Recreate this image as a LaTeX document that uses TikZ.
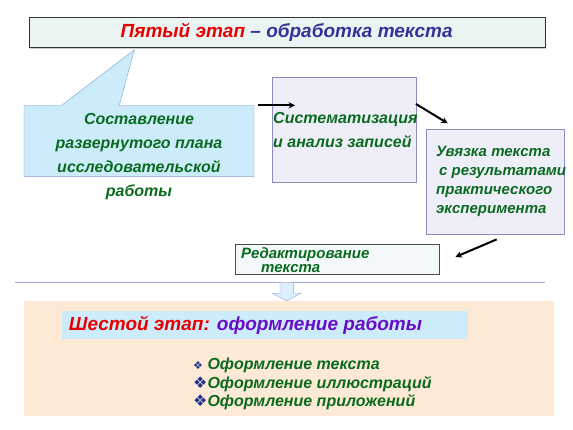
\documentclass[tikz,border=0pt]{standalone}
\usepackage{fontspec}
\setmainfont{Liberation Sans}
\newfontfamily\symfont{DejaVu Sans}
\usetikzlibrary{arrows.meta, positioning, calc, shadows}
\definecolor{stagered}{HTML}{E60000}
\definecolor{stageblue}{HTML}{333399}
\definecolor{stagepurple}{HTML}{6A0DC8}
\definecolor{textgreen}{HTML}{0A6A1E}
\definecolor{bulletblue}{HTML}{22338A}
\definecolor{headfill}{HTML}{EAF4F2}
\definecolor{calloutfill}{HTML}{CCECFB}
\definecolor{calloutline}{HTML}{7F9FD0}
\definecolor{boxfill}{HTML}{EEEEF9}
\definecolor{boxline}{HTML}{8C8CC0}
\definecolor{editfill}{HTML}{F3F9FA}
\definecolor{peach}{HTML}{FCE9D6}
\definecolor{sepline}{HTML}{A0A8C8}
\definecolor{downfill}{HTML}{DDEEFF}
\definecolor{downline}{HTML}{8FA8D8}
\tikzset{
    flow/.style={-{Stealth[length=6.5pt, width=6.5pt]}, line width=2pt},
    stepbox/.style={draw=boxline, fill=boxfill, anchor=north west, inner sep=0pt},
    txt/.style={text=textgreen, align=left, inner sep=0pt},
    bigtxt/.style={font=\bfseries\itshape\fontsize{19}{22}\selectfont, inner sep=0pt}
}

\begin{document}
\begin{tikzpicture}[x=1pt, y=-1pt]
    \useasboundingbox (0,0) rectangle (573,430);
    % Fifth stage header
    \node[draw=black!80, fill=headfill, anchor=north west, minimum width=516pt, minimum height=30pt,
          drop shadow={shadow xshift=1.5pt, shadow yshift=-2pt, opacity=0.4}, bigtxt] (fifth) at (28.5,17.3)
        {\textcolor{stagered}{Пятый этап} \textcolor{stageblue}{– обработка текста}};
    % Callout with the plan
    \node[anchor=north west, minimum width=229.6pt, minimum height=70.7pt, inner sep=0pt] (plan) at (24,105.3) {};
    \draw[draw=calloutline, fill=calloutfill] (plan.north west) -- ++(37.7,0)
        -- ([xshift=105.9pt, yshift=-2pt]fifth.south west) -- ([xshift=95.3pt]plan.north west)
        -- (plan.north east) -- (plan.south east) -- (plan.south west) -- cycle;
    \node[txt, align=center, font=\bfseries\itshape\fontsize{16}{24}\selectfont] (plantext) at ([yshift=-15.5pt]plan.center)
        {Составление\\развернутого плана\\исследовательской\\работы};
    % Steps
    \node[stepbox, minimum width=143.6pt, minimum height=105pt] (sys) at (272,76.7) {};
    \node[txt, anchor=west, font=\bfseries\itshape\fontsize{16}{23.7}\selectfont] (systext) at (273,130)
        {Систематизация\\и анализ записей};
    \node[stepbox, minimum width=138pt, minimum height=104.7pt] (link) at (426,129.3) {};
    \node[txt, anchor=west, font=\bfseries\itshape\fontsize{15}{19}\selectfont] (linktext) at (436,181)
        {Увязка текста\\\hspace{3pt}с результатами\\практического\\эксперимента};
    \node[draw=black!70, fill=editfill, anchor=north west, inner sep=0pt, minimum width=204pt, minimum height=30.5pt] (edit) at (235,244) {};
    \node[txt, anchor=west, font=\bfseries\itshape\fontsize{15}{14}\selectfont] (edittext) at (241,260.5)
        {Редактирование\\\hspace{20pt}текста};
    % Arrows between steps
    \draw[flow] ([xshift=4.4pt]plan.north east) -- ([xshift=23pt]sys.west |- plan.north east);
    \draw[flow] ([yshift=-27.3pt]sys.north east) -- ([xshift=21.7pt, yshift=6pt]link.north west);
    \draw[flow] ([xshift=70.7pt, yshift=-5pt]link.south west) -- ([xshift=16pt, yshift=2.5pt]edit.east);
    % Separator and block arrow
    \draw[sepline, line width=1pt] (14.6,282.3) -- (544.6,282.3);
    \node[fill=peach, anchor=north west, inner sep=0pt, minimum width=529.7pt, minimum height=114.7pt] (sixth) at (24,301) {};
    \draw[draw=downline, fill=downfill] (280,282.3) -- (293.3,282.3) -- (293.3,293.3) -- (300.7,293.3)
        -- (286.7,301) -- (272.3,293.3) -- (280,293.3) -- cycle;
    % Sixth stage
    \node[fill=calloutfill, anchor=north west, inner sep=0pt, minimum width=406pt, minimum height=28.6pt] (sixthhead) at (62,310.7) {};
    \node[bigtxt, anchor=west] (sixthtext) at (68.7,325.5)
        {\textcolor{stagered}{Шестой этап:} \textcolor{stagepurple}{оформление работы}};
    \node[txt, anchor=north west, font=\bfseries\itshape\fontsize{16}{18.5}\selectfont] (tasks) at (193,358)
        {{\color{bulletblue}\symfont\fontsize{11}{12}\selectfont ❖} Оформление текста\\
         {\color{bulletblue}\symfont ❖}Оформление иллюстраций\\
         {\color{bulletblue}\symfont ❖}Оформление приложений};
\end{tikzpicture}
\end{document}
